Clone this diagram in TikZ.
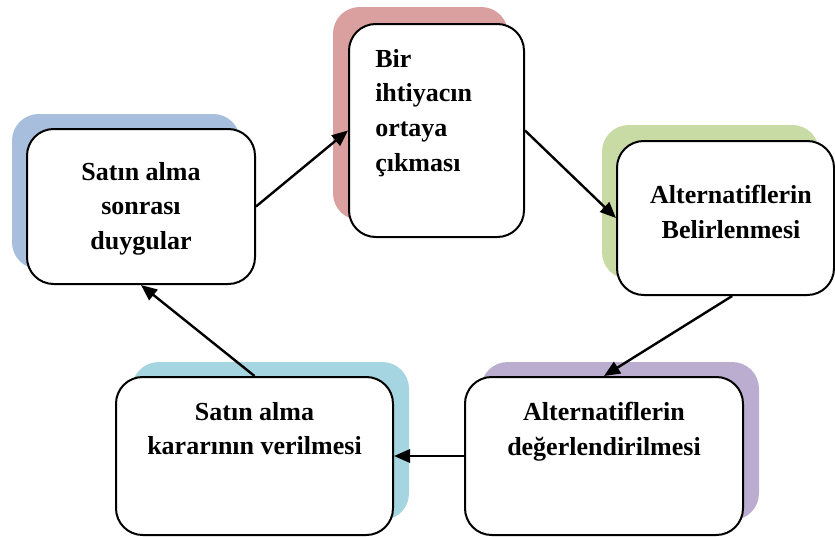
\documentclass[tikz,border=0pt]{standalone}
\usepackage{fontspec}
\setmainfont{Liberation Serif}
\usetikzlibrary{arrows.meta}
\definecolor{sred}{HTML}{DAA09F}
\definecolor{sblue}{HTML}{A7BFDD}
\definecolor{sgreen}{HTML}{C8DBA5}
\definecolor{spurple}{HTML}{BBADD0}
\definecolor{scyan}{HTML}{A5D5E1}
\begin{document}
\begin{tikzpicture}[x=0.75pt,y=-0.75pt,
  card/.style={draw=black,line width=1.5pt,fill=white,rounded corners=20pt,inner sep=0pt},
  shadebox/.style={rounded corners=20pt,inner sep=0pt,draw=none},
  lbl/.style={inner sep=0pt,font=\bfseries\fontsize{19.5}{26}\selectfont},
  flow/.style={line width=1.8pt,-{Triangle[length=12pt,width=10pt]}}]
\useasboundingbox (0,0) rectangle (835,536);
% shadows
\node[shadebox,fill=sred,minimum width=131.25pt,minimum height=159.75pt] (s1) at (420.5,113.5) {};
\node[shadebox,fill=sblue,minimum width=171pt,minimum height=116.25pt] (s2) at (126,191.5) {};
\node[shadebox,fill=sgreen,minimum width=162.75pt,minimum height=115.5pt] (s3) at (710.5,202) {};
\node[shadebox,fill=scyan,minimum width=207.75pt,minimum height=118.5pt] (s4) at (270.5,441) {};
\node[shadebox,fill=spurple,minimum width=208.5pt,minimum height=118.5pt] (s5) at (620,441) {};
% boxes
\node[card,minimum width=131.25pt,minimum height=159.75pt] (b1) at (436.5,130.5) {};
\node[card,minimum width=171pt,minimum height=116.25pt] (b2) at (141,206.5) {};
\node[card,minimum width=162.75pt,minimum height=115.5pt] (b3) at (725.5,218) {};
\node[card,minimum width=207.75pt,minimum height=118.5pt] (b4) at (254.5,456) {};
\node[card,minimum width=208.5pt,minimum height=118.5pt] (b5) at (604,456) {};
% texts
\node[lbl,anchor=north west,align=left] (t1) at (375,49) {Bir\\ihtiyacın\\ortaya\\çıkması};
\node[lbl,anchor=north,align=center] (t2) at (141,162) {Satın alma\\sonrası\\duygular};
\node[lbl,anchor=north,align=center] (t3) at (731,185) {Alternatiflerin\\Belirlenmesi};
\node[lbl,anchor=north,align=center] (t4) at (254.5,402) {Satın alma\\kararının verilmesi};
\node[lbl,anchor=north,align=center] (t5) at (604,402) {Alternatiflerin\\değerlendirilmesi};
% arrows
\draw[flow] (b2.east) -- (b1.west);
\draw[flow] (b1.east) -- (b3.west);
\draw[flow] ([xshift=5pt]b3.south) -- (b5.north);
\draw[flow] (b5.west) -- (b4.east);
\draw[flow] (b4.north) -- (b2.south);
\end{tikzpicture}
\end{document}
